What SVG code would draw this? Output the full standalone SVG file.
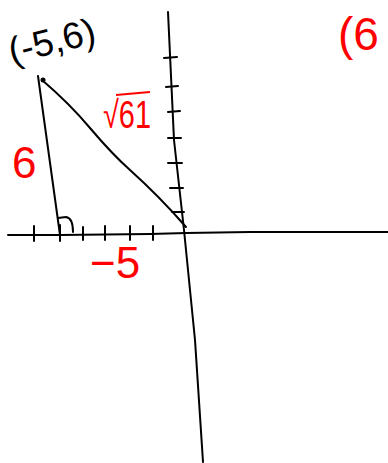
<svg xmlns="http://www.w3.org/2000/svg" width="388" height="463" viewBox="0 0 388 463">
<style>
.ink{fill:none;stroke:#000;stroke-width:2;stroke-linecap:round;stroke-linejoin:round}
.red{fill:#ff0000;font-family:"Liberation Sans",Arial,sans-serif}
.blk{fill:#000;font-family:"Liberation Sans",Arial,sans-serif}
</style>
<rect width="388" height="463" fill="#fff"/>
<g id="axes">
<path class="ink" d="M8,235 L60,235 L150,234 L186,233 L250,232 L388,232"/>
<path class="ink" d="M168,12 L174,140 L184,230 L195,340 L203,462"/>
<path class="ink" d="M34,226 V241 M60,225 V241 M83,227 V240 M105,226 V240 M130,226 V240 M153,226 V240"/>
<path class="ink" d="M164,58 L177,57 M166,87 L178,86 M168,112 L180,111 M168,138 L181,138 M168,163 L182,163 M170,188 L183,188 M172,212 L184,212"/>
</g>
<g id="triangle">
<path class="ink" d="M38,76 L60,235"/>
<path class="ink" d="M42,80 Q70,104 90,128 Q112,154 130,170 Q160,197 186,227"/>
<path class="ink" d="M58,218 L66,217 Q73,218 73,232"/>
<circle cx="43" cy="80" r="2.5" fill="#000"/>
</g>
<g id="labels">
<text class="blk" x="12" y="64" font-size="37" transform="rotate(-14 12 64)">(-5,6)</text>
<text class="red" x="103" y="128" font-size="38" textLength="48" lengthAdjust="spacingAndGlyphs">√61</text>
<line x1="116" y1="95" x2="150" y2="92" stroke="#ff0000" stroke-width="2"/>
<text class="red" x="12" y="178" font-size="44">6</text>
<text class="red" x="90" y="278" font-size="44">−5</text>
<text class="red" x="338" y="50" font-size="46">(6</text>
</g>
</svg>
